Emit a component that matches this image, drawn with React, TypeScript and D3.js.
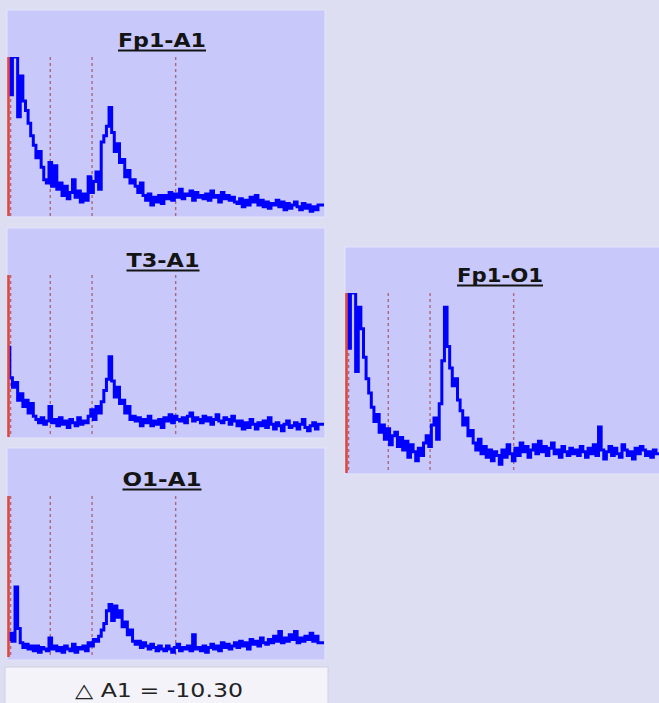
import React from "react";
import * as d3 from "d3";

// ---- data (relative spectral power, 0 = baseline, 100 = top of plot; values > 100 are clipped) ----
const FREQ_STEP = 0.25; // Hz per sample
const BAND_LINES = [0.2, 4, 8, 16]; // Hz, dashed band markers

const titles = ["Fp1-A1", "T3-A1", "O1-A1", "Fp1-O1"];

const fp1A1 = [
  100, 76, 100, 100, 62,
  88, 72, 66, 58, 50, 44,
  36, 40, 30, 22,
  20, 33, 18, 31,
  16, 20, 12, 18, 10, 14, 22, 11, 15, 8, 13, 9,
  24, 14, 21, 27, 16,
  46, 50, 56, 68,
  52, 40, 45, 33,
  35, 24, 28, 20, 22,
  18, 14, 20, 12,
  9, 13, 6, 11, 8, 12, 7,
  12, 10, 14, 9, 13, 11, 16, 10, 13, 12, 15, 9, 14, 11, 12, 10, 13, 9, 15, 11, 12, 8, 14, 10, 12, 9, 11, 8,
  7, 10, 5, 9, 6, 11, 8, 12, 6, 9, 5, 8, 4, 7, 6, 9, 5, 8, 3, 7, 4, 6, 8, 5, 3, 7, 4, 6, 2, 5, 3, 6,
];

const t3A1 = [
  55, 36, 30, 33, 22,
  26, 18, 22, 14, 20, 12,
  10, 8, 11, 7, 9, 18, 8, 10,
  6, 11, 7, 9, 5, 10, 8, 6, 11, 7, 9, 8,
  12, 16, 10, 18, 14,
  21, 28, 35, 49,
  34, 24, 30, 20,
  22, 14, 18, 10, 12,
  9, 11, 6, 10,
  8, 12, 6, 9, 7, 10, 5,
  11, 9, 13, 8, 12, 10, 9, 11, 8, 12, 14, 9, 11, 10, 8, 12, 9, 11, 7, 10, 13, 9, 8, 11, 10, 7, 12, 9,
  6, 9, 4, 8, 5, 10, 7, 4, 8, 6, 9, 5, 11, 7, 4, 8, 6, 3, 7, 9, 5, 6, 8, 4, 7, 10, 5, 3, 6, 8, 4, 7,
];

const o1A1 = [
  10, 14, 9, 43, 17,
  8, 5, 7, 4, 6, 3,
  6, 2, 5, 4, 3, 11, 4, 6,
  3, 5, 2, 6, 4, 3, 7, 2, 5, 4, 6, 3,
  8, 6, 10, 9, 12,
  16, 20, 28, 32,
  22, 31, 24, 28,
  18, 21, 13, 16, 9,
  7, 9, 5, 8,
  6, 4, 7, 5, 3, 6, 4,
  3, 6, 4, 2, 5, 7, 3, 5, 4, 6, 3, 13, 4, 5, 3, 6, 2, 5, 7, 4, 6, 3, 8, 5, 7, 4, 6, 8,
  5, 9, 6, 8, 4, 10, 7, 9, 6, 11, 8, 7, 10, 8, 12, 9, 15, 8, 11, 9, 13, 10, 15, 8, 11, 9, 12, 10, 14, 9, 12, 8,
];

const fp1O1 = [
  100, 69, 100, 100, 56,
  92, 80, 64, 52, 44, 36,
  28, 32, 22, 26,
  18, 24, 15, 20,
  22, 14, 19, 12, 17, 8, 15, 11, 6, 13, 9, 16,
  20, 14, 26, 30, 18,
  38, 62, 92, 70,
  58, 48, 52, 40,
  34, 26, 30, 20, 23,
  16, 12, 18, 10,
  14, 8, 12, 6, 11, 9, 4,
  12, 8, 15, 10, 6, 13, 9, 16, 11, 14, 8, 12, 15, 10, 17, 11, 14, 9, 13, 16, 10, 12, 8, 14, 11, 9, 13, 10,
  12, 9, 14, 11, 8, 13, 10, 15, 9, 25, 12, 7, 11, 14, 9, 13, 10, 8, 15, 12, 9, 11, 7, 13, 10, 14, 12, 9, 11, 8, 12, 10,
];

const series = [fp1A1, t3A1, o1A1, fp1O1];
const deltaLabel = "△ A1 = -10.30";

// ---- layout ----
const W = 659;
const H = 703;
const layouts = [
  { px: 7, py: 10, pw: 318, ph: 207, left: 8.5, top: 57, bottom: 216, tx: 162, ty: 47, tw: 88 },
  { px: 7, py: 228, pw: 318, ph: 210, left: 8.5, top: 275, bottom: 437, tx: 163, ty: 267, tw: 73 },
  { px: 7, py: 448, pw: 318, ph: 212, left: 8.5, top: 496, bottom: 657, tx: 162, ty: 486, tw: 79 },
  { px: 345, py: 247, pw: 320, ph: 227, left: 346.5, top: 293, bottom: 473, tx: 500, ty: 282, tw: 86 },
];

function Panel({ values, title, L, idx }: any) {
  const x = d3.scaleLinear().domain([0, 30.2]).range([L.left, L.left + 315.5]);
  const y = d3.scaleLinear().domain([0, 100]).range([L.bottom - 1.5, L.top]).clamp(true);
  const pts: [number, number][] = values.map((v: number, i: number) => [i * FREQ_STEP, v]);
  pts.push([30.2, values[values.length - 1]]);
  const line = d3
    .line<[number, number]>()
    .x((d) => x(d[0]))
    .y((d) => y(d[1]))
    .curve(d3.curveStep);
  const clipId = `clip${idx}`;
  return (
    <g>
      <rect x={L.px} y={L.py} width={L.pw} height={L.ph} fill="#c8c8fa" stroke="#e4e4fb" strokeWidth={1} />
      <defs>
        <clipPath id={clipId}>
          <rect x={L.left - 1} y={L.top} width={318} height={L.bottom - L.top + 2} />
        </clipPath>
      </defs>
      {BAND_LINES.map((f, i) => (
        <line
          key={i}
          x1={x(f)}
          x2={x(f)}
          y1={L.top}
          y2={L.bottom}
          stroke="#a85868"
          strokeWidth={1.4}
          strokeDasharray="3 3"
          opacity={0.85}
        />
      ))}
      <g clipPath={`url(#${clipId})`}>
        <path d={line(pts) || ""} fill="none" stroke="#0000ff" strokeWidth={3} strokeLinejoin="miter" />
      </g>
      <line x1={L.left} x2={L.left} y1={L.top} y2={L.bottom} stroke="#e0483c" strokeWidth={2.6} />
      <text
        x={L.tx}
        y={L.ty}
        textAnchor="middle"
        fontFamily="DejaVu Sans, Verdana, sans-serif"
        fontWeight="bold"
        fontSize={19}
        fill="#141414"
        textLength={L.tw}
        lengthAdjust="spacingAndGlyphs"
      >
        {title}
      </text>
      <line x1={L.tx - L.tw / 2} x2={L.tx + L.tw / 2} y1={L.ty + 3.5} y2={L.ty + 3.5} stroke="#141414" strokeWidth={1.8} />
    </g>
  );
}

export default function App() {
  return (
    <svg
      width={W}
      height={H}
      viewBox={`0 0 ${W} ${H}`}
      style={{ position: "absolute", left: 0, top: 0, display: "block" }}
    >
      <rect x={0} y={0} width={W} height={H} fill="#dedef3" />
      {series.map((vals, i) => (
        <Panel key={i} idx={i} values={vals} title={titles[i]} L={layouts[i]} />
      ))}
      <rect x={5} y={667} width={323} height={40} fill="#f3f3f9" stroke="#d0d0e4" strokeWidth={1} />
      <text
        x={159}
        y={697}
        textAnchor="middle"
        fontFamily="DejaVu Sans, Verdana, sans-serif"
        fontSize={19}
        fill="#222"
        textLength={168}
        lengthAdjust="spacingAndGlyphs"
      >
        {deltaLabel}
      </text>
    </svg>
  );
}
